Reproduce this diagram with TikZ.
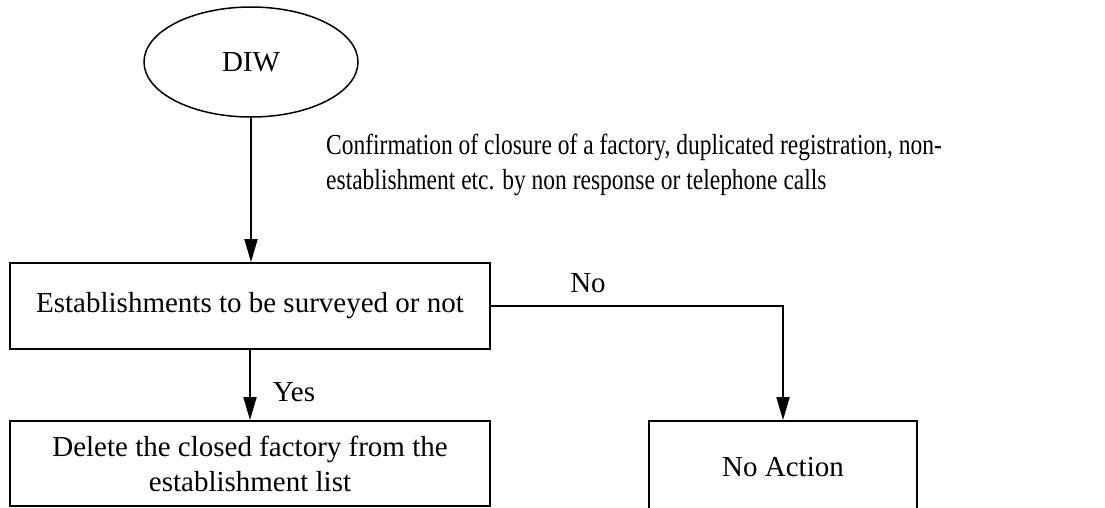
\documentclass[tikz,border=0pt]{standalone}
\usepackage{fontspec}
\setmainfont{Liberation Serif}
\newfontfamily\notefont[FakeStretch=0.81]{Liberation Serif}
\usetikzlibrary{shapes.geometric,arrows.meta}
\begin{document}
\begin{tikzpicture}[x=1pt,y=-1pt,
  every node/.style={font=\fontsize{29}{35}\selectfont},
  box/.style={draw, line width=1.8pt, rectangle, inner sep=0pt, align=center},
  flow/.style={draw, line width=1.8pt, -{Triangle[length=23pt,width=13pt]}},
  notetext/.style={font=\notefont\fontsize{29}{35}\selectfont, align=left, inner sep=0pt},
]
\useasboundingbox (0,0) rectangle (1105,507);
\clip (0,0) rectangle (1105,507);

% start terminal
\node[draw, ellipse, line width=1.5pt, minimum width=214pt, minimum height=110pt, inner sep=0pt] (diw) at (251,62) {DIW};

% process boxes
\node[box, minimum width=480pt, minimum height=86pt] (survey) at (250,306) {Establishments to be surveyed or not};
\node[box, minimum width=480pt, minimum height=85pt] (delete) at (250,463.5) {Delete the closed factory from the\\establishment list};
\node[box, minimum width=268pt, minimum height=92pt] (noact) at (783,467) {No Action};

% explanatory note beside the first arrow
\node[notetext, anchor=west] (note) at (326,165)
  {Confirmation of closure of a factory, duplicated registration, non-\\establishment etc. by non response or telephone calls};

% connectors
\draw[flow] (diw.south) -- (diw.south |- survey.north);
\draw[flow] (survey.south) -- (delete.north);
\draw[flow] (survey.east) -| (noact.north);

% branch labels
\node (yes) at (294,392) {Yes};
\node (no) at (588,283) {No};
\end{tikzpicture}
\end{document}
